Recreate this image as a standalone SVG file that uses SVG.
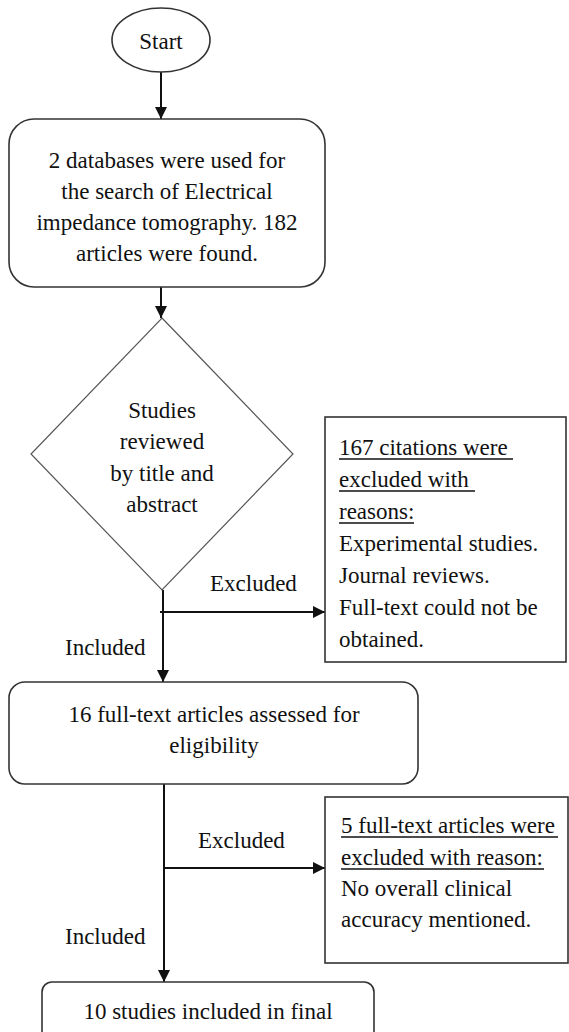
<svg xmlns="http://www.w3.org/2000/svg" width="569" height="1032" viewBox="0 0 569 1032">
<style>
text{font-family:'Liberation Serif','DejaVu Serif','Times New Roman',Times,serif;font-size:23px;fill:#111}
.c{text-anchor:middle}
.box{fill:#fff;stroke:#333;stroke-width:1.6}
.dia{fill:#fff;stroke:#555;stroke-width:1.2}
.ln{stroke:#111;stroke-width:2;fill:none}
.u{stroke:#111;stroke-width:1.3}
</style>
<defs>
<marker id="ah" viewBox="0 0 12 12" refX="12" refY="6" markerWidth="12" markerHeight="12" markerUnits="userSpaceOnUse" orient="auto">
<path d="M0,0 L12,6 L0,12 Z" fill="#111"/>
</marker>
</defs>
<g id="connectors">
<line class="ln" x1="161" y1="72" x2="161" y2="119" marker-end="url(#ah)"/>
<line class="ln" x1="161" y1="287" x2="161" y2="318" marker-end="url(#ah)"/>
<line class="ln" x1="163" y1="590" x2="163" y2="682" marker-end="url(#ah)"/>
<line class="ln" x1="160" y1="612" x2="325" y2="612" marker-end="url(#ah)"/>
<line class="ln" x1="164" y1="784" x2="164" y2="982" marker-end="url(#ah)"/>
<line class="ln" x1="164" y1="868" x2="325" y2="868" marker-end="url(#ah)"/>
<text x="210" y="591">Excluded</text>
<text x="65" y="655">Included</text>
<text x="198" y="848">Excluded</text>
<text x="65" y="944">Included</text>
</g>
<g id="start">
<ellipse class="box" cx="161" cy="40" rx="49" ry="32"/>
<text class="c" x="161" y="49">Start</text>
</g>
<g id="search">
<rect class="box" x="9" y="119" width="316" height="168" rx="25"/>
<text class="c" x="167" y="168">2 databases were used for</text>
<text class="c" x="167" y="199">the search of Electrical</text>
<text class="c" x="167" y="230">impedance tomography. 182</text>
<text class="c" x="167" y="261">articles were found.</text>
</g>
<g id="review">
<polygon class="dia" points="162,318 293,454 162,590 31,454"/>
<text class="c" x="162" y="418">Studies</text>
<text class="c" x="162" y="449">reviewed</text>
<text class="c" x="162" y="481">by title and</text>
<text class="c" x="162" y="512">abstract</text>
</g>
<g id="excluded1">
<rect class="box" x="325" y="417" width="241" height="245"/>
<text x="339" y="455">167 citations were </text>
<line class="u" x1="339" y1="459" x2="513" y2="459"/>
<text x="339" y="487">excluded with</text>
<line class="u" x1="339" y1="491" x2="475" y2="491"/>
<text x="339" y="519">reasons:</text>
<line class="u" x1="339" y1="523" x2="414" y2="523"/>
<text x="339" y="551">Experimental studies.</text>
<text x="339" y="583">Journal reviews.</text>
<text x="339" y="615">Full-text could not be</text>
<text x="339" y="647">obtained.</text>
</g>
<g id="fulltext">
<rect class="box" x="9" y="682" width="409" height="102" rx="16"/>
<text class="c" x="214" y="722">16 full-text articles assessed for</text>
<text class="c" x="214" y="753">eligibility</text>
</g>
<g id="excluded2">
<rect class="box" x="325" y="797" width="243" height="166"/>
<text x="341" y="833">5 full-text articles were</text>
<line class="u" x1="341" y1="837" x2="558" y2="837"/>
<text x="341" y="865">excluded with reason:</text>
<line class="u" x1="341" y1="869" x2="544" y2="869"/>
<text x="341" y="896">No overall clinical</text>
<text x="341" y="927">accuracy mentioned.</text>
</g>
<g id="final">
<rect class="box" x="42" y="982" width="332" height="70" rx="10"/>
<text class="c" x="208" y="1019">10 studies included in final</text>
</g>
</svg>
